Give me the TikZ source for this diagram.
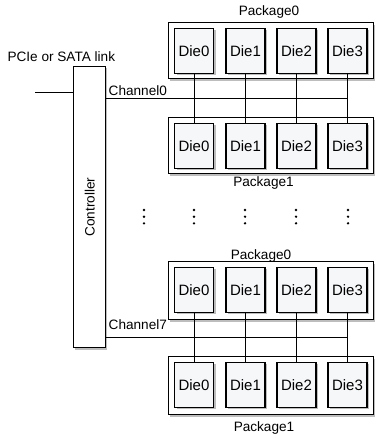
\documentclass[tikz,border=0pt]{standalone}
\usepackage{fontspec}
\setmainfont{Liberation Sans}
\usetikzlibrary{positioning}
\definecolor{diefill}{HTML}{F6F7F9}
\definecolor{shadowc}{HTML}{BDBDBD}
\tikzset{
  diebox/.style={draw, line width=1.1pt, fill=diefill, minimum width=39pt, minimum height=45pt, inner sep=0pt, font=\fontsize{15}{15}\selectfont},
  pkgbox/.style={draw, line width=1.1pt, fill=white, inner sep=0pt},
  lbl/.style={font=\fontsize{13.6}{14}\selectfont, inner sep=0pt},
  wire/.style={line width=1pt},
  dot/.style={fill=black, circle, inner sep=0pt, minimum size=2.6pt}
}
\begin{document}
\begin{tikzpicture}[x=1pt,y=-1pt]
\useasboundingbox (0,0) rectangle (375,439);
% controller
\fill[shadowc] (75,68) rectangle (107,349.5);
\node[pkgbox, minimum width=32pt, minimum height=281pt, anchor=north west] (ctrl) at (73.3,66) {};
\node[lbl, rotate=90] at (ctrl.center) {Controller};
\coordinate (pcie) at (35,92.7);
\draw[wire] (pcie) -- (pcie -| ctrl.west);
\node[lbl, anchor=base west] (pcielbl) at (7.3,61.4) {PCIe or SATA link};

\foreach \g/\pt/\pb/\dt/\lt/\ltx/\lb/\lbx/\ch/\chn/\chl in {
  a/22/78/28/15/269/186.5/263.5/98.3/Channel0/95.7,
  b/261/319/267/259/261/431.5/264/337.3/Channel7/329.7}{
  % upper package
  \fill[shadowc] (170,\pt+2.5) rectangle (375,\pb+2.5);
  \node[pkgbox, minimum width=204.5pt, minimum height={\pb-\pt}, anchor=north west] (\g p0) at (168,\pt) {};
  \node[lbl, anchor=base] (\g l0) at (\ltx,\lt) {Package0};
  % lower package
  \fill[shadowc] (170,\pt+97.5) rectangle (375,\pb+97.5);
  \node[pkgbox, minimum width=204.5pt, minimum height={\pb-\pt}, anchor=north west] (\g p1) at (168,\pt+95) {};
  \node[lbl, anchor=base] (\g l1) at (\lbx,\lb) {Package1};
  \foreach \i/\x in {0/194,1/245.5,2/296.5,3/347.5}{
    \fill[shadowc] (\x-19.5+2,\dt+2) rectangle (\x+19.5+2,\dt+47);
    \node[diebox, anchor=north] (\g u\i) at (\x,\dt) {Die\i};
    \fill[shadowc] (\x-19.5+2,\dt+97) rectangle (\x+19.5+2,\dt+142);
    \node[diebox, anchor=north] (\g d\i) at (\x,\dt+95) {Die\i};
    \draw[wire] (\g u\i.south) -- (\g d\i.north);
  }
  \coordinate (\g ch) at (105,\ch);
  \draw[wire] (\g ch) -- (\g ch -| \g u3.south);
  \node[lbl, anchor=base west] (\g chl) at (108.5,\chl) {\chn};
}
% dots
\foreach \x in {144,194,245,296,348}{
  \foreach \y in {210,216.7,223.3}{
    \node[dot] at (\x,\y) {};
  }
}
\end{tikzpicture}
\end{document}
